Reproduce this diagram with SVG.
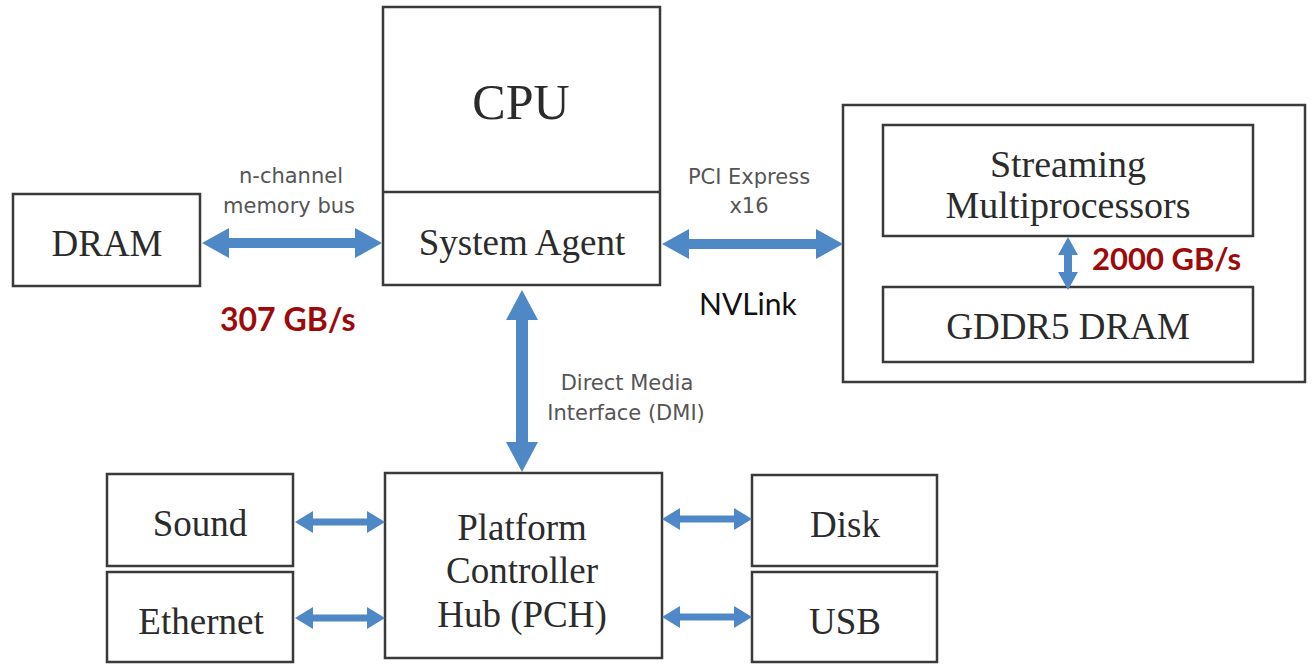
<svg xmlns="http://www.w3.org/2000/svg" width="1315" height="664" viewBox="0 0 1315 664">
  <style>
    .box { fill: #ffffff; stroke: #3a3a3a; stroke-width: 2.5; }
    .div { stroke: #3a3a3a; stroke-width: 2.5; }
    .serif { font-family: "Liberation Serif", "Times New Roman", serif; fill: #2b2b2b; text-anchor: middle; }
    .lbl { font-family: "DejaVu Sans", "Liberation Sans", sans-serif; fill: #555555; font-size: 21px; text-anchor: middle; }
    .rate { font-family: Lato, "Open Sans", sans-serif; font-weight: bold; fill: #9c0a0a; }
    .plain { font-family: Lato, "Open Sans", sans-serif; fill: #111111; }
    .arrow { fill: #4f88c6; }
  </style>

  <rect width="1315" height="664" fill="#ffffff"/>

  <g id="dram">
    <rect class="box" x="13" y="194" width="187" height="92"/>
    <text class="serif" x="107" y="256" font-size="37">DRAM</text>
  </g>

  <g id="cpu">
    <rect class="box" x="383" y="7" width="277" height="278"/>
    <line class="div" x1="383" y1="192" x2="660" y2="192"/>
    <text class="serif" x="521" y="119" font-size="50">CPU</text>
    <text class="serif" x="522" y="255" font-size="37">System Agent</text>
  </g>

  <g id="gpu">
    <rect class="box" x="843" y="105" width="462" height="277"/>
  </g>

  <g id="sm">
    <rect class="box" x="883" y="125" width="370" height="111"/>
    <text class="serif" x="1068" y="177" font-size="38">Streaming</text>
    <text class="serif" x="1068" y="218" font-size="38">Multiprocessors</text>
  </g>

  <g id="gddr5">
    <rect class="box" x="883" y="287" width="370" height="75"/>
    <text class="serif" x="1068" y="339" font-size="37">GDDR5 DRAM</text>
  </g>

  <g id="pch">
    <rect class="box" x="385" y="473" width="277" height="185"/>
    <text class="serif" x="522" y="540" font-size="37">Platform</text>
    <text class="serif" x="522" y="583" font-size="37">Controller</text>
    <text class="serif" x="522" y="627" font-size="37">Hub (PCH)</text>
  </g>

  <g id="sound">
    <rect class="box" x="107" y="474" width="186" height="92"/>
    <text class="serif" x="200" y="536" font-size="37">Sound</text>
  </g>

  <g id="ethernet">
    <rect class="box" x="107" y="572" width="186" height="90"/>
    <text class="serif" x="201" y="634" font-size="37">Ethernet</text>
  </g>

  <g id="disk">
    <rect class="box" x="752" y="475" width="185" height="91"/>
    <text class="serif" x="845" y="537" font-size="37">Disk</text>
  </g>

  <g id="usb">
    <rect class="box" x="752" y="572" width="185" height="90"/>
    <text class="serif" x="845" y="634" font-size="37">USB</text>
  </g>

  <!-- connectors: double-headed bus arrows, drawn over the boxes -->
  <g id="connectors">
    <!-- DRAM <-> System Agent -->
    <path class="arrow" d="M202,243 L229,228 L229,238 L355,238 L355,228 L382,243 L355,258 L355,248 L229,248 L229,258 Z"/>
    <!-- System Agent <-> GPU -->
    <path class="arrow" d="M662,244 L689,229 L689,239 L816,239 L816,229 L843,244 L816,259 L816,249 L689,249 L689,259 Z"/>
    <!-- System Agent <-> PCH (DMI) -->
    <path class="arrow" d="M522,290 L538,320 L528,320 L528,442 L538,442 L522,472 L506,442 L516,442 L516,320 L506,320 Z"/>
    <!-- SMs <-> GDDR5 -->
    <path class="arrow" d="M1068,237 L1078,255 L1072,255 L1072,272 L1078,272 L1068,290 L1058,272 L1064,272 L1064,255 L1058,255 Z"/>
    <!-- Sound <-> PCH -->
    <path class="arrow" d="M295,522 L313,511 L313,518.5 L367,518.5 L367,511 L385,522 L367,533 L367,525.5 L313,525.5 L313,533 Z"/>
    <!-- Ethernet <-> PCH -->
    <path class="arrow" d="M295,618 L313,607 L313,614.5 L367,614.5 L367,607 L385,618 L367,629 L367,621.5 L313,621.5 L313,629 Z"/>
    <!-- PCH <-> Disk -->
    <path class="arrow" d="M662,519 L680,508 L680,515.5 L734,515.5 L734,508 L752,519 L734,530 L734,522.5 L680,522.5 L680,530 Z"/>
    <!-- PCH <-> USB -->
    <path class="arrow" d="M662,617 L680,606 L680,613.5 L734,613.5 L734,606 L752,617 L734,628 L734,620.5 L680,620.5 L680,628 Z"/>

    <text class="lbl" x="291" y="183">n-channel</text>
    <text class="lbl" x="289" y="213">memory bus</text>
    <text class="lbl" x="749" y="184">PCI Express</text>
    <text class="lbl" x="749" y="213">x16</text>
    <text class="lbl" x="627" y="390">Direct Media</text>
    <text class="lbl" x="626" y="420">Interface (DMI)</text>
    <text class="plain" x="699" y="315" font-size="30">NVLink</text>
    <text class="rate" x="220" y="331" font-size="32">307 GB/s</text>
    <text class="rate" x="1092" y="270" font-size="31">2000 GB/s</text>
  </g>
</svg>
